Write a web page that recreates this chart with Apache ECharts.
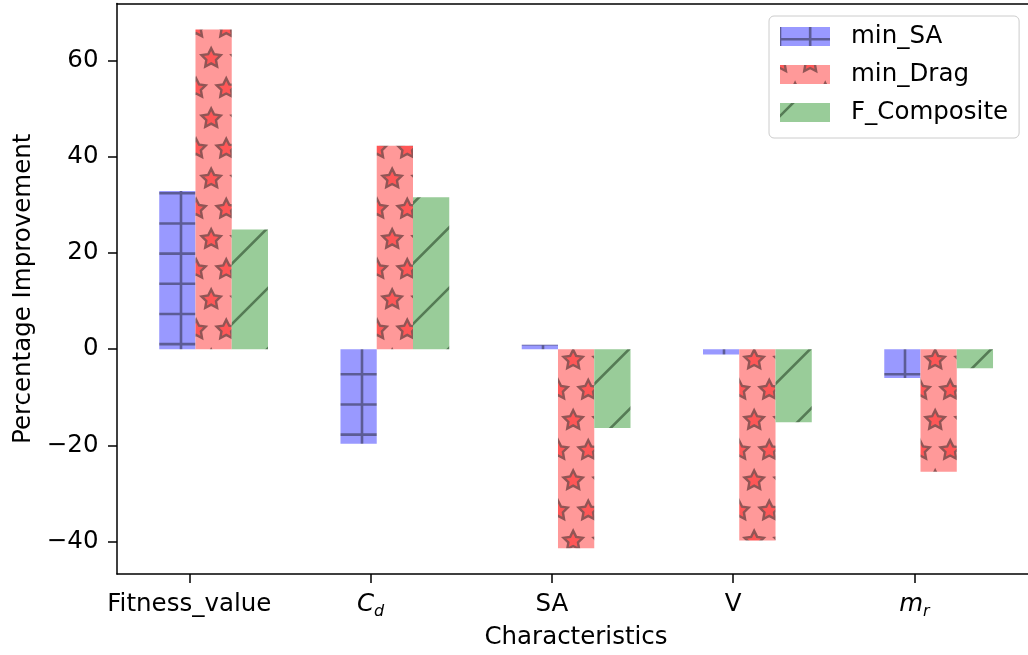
<!DOCTYPE html>
<html>
<head>
<meta charset="utf-8">
<script src="https://cdn.jsdelivr.net/npm/echarts@6/dist/echarts.min.js"></script>
<style>
  html, body { margin: 0; padding: 0; background: #ffffff; }
  #chart { width: 1028px; height: 655px; }
</style>
</head>
<body>
<div id="chart"></div>
<script>
// ---- data ----
const categories = ['Fitness_value', 'C_d', 'SA', 'V', 'm_r'];
const seriesNames = ['min_SA', 'min_Drag', 'F_Composite'];
const minSA = [32.9, -19.7, 0.9, -1.1, -6.0];
const minDrag = [66.5, 42.3, -41.4, -39.8, -25.5];
const fComposite = [24.9, 31.6, -16.4, -15.2, -4.0];
const yTicks = [-40, -20, 0, 20, 40, 60];
// labels written as math: base letter + italic subscript
const mathLabels = { C_d: ['C', 'd'], m_r: ['m', 'r'] };

// ---- layout ----
const FONT = 'DejaVu Sans';
const FS = 24.5;
const GRID_L = 117, GRID_T = 3.5, GRID_W = 911, GRID_H = 575;
const X_MIN = -0.399, X_MAX = 4.627;
const Y_MIN = -46.8, Y_MAX = 71.9;
const BAR_W = 0.2;                       // bar width in category units
const OFFSETS = [-0.066, 0.134, 0.334];  // bar centre offsets per series
const barPx = BAR_W * GRID_W / (X_MAX - X_MIN);

// ---- hatch tiles ----
const TILE = 181;
const STEP = TILE / 6;
function makeTile(bg, draw) {
  const c = document.createElement('canvas');
  c.width = TILE; c.height = TILE;
  const g = c.getContext('2d');
  g.fillStyle = bg;
  g.fillRect(0, 0, TILE, TILE);
  draw(g);
  return c;
}
// '+' grid
const gridTile = makeTile('#9999ff', g => {
  g.strokeStyle = '#5c5c96';
  g.lineWidth = 2.6;
  g.beginPath();
  for (let k = 0; k <= 6; k++) {
    const x = k * STEP;
    g.moveTo(x, -2); g.lineTo(x, TILE + 2);
  }
  for (let k = -1; k <= 6; k++) {
    const y = 12.3 + k * STEP;
    g.moveTo(-2, y); g.lineTo(TILE + 2, y);
  }
  g.stroke();
});
// stars
function star(g, cx, cy, R) {
  g.beginPath();
  for (let i = 0; i < 10; i++) {
    const r = i % 2 === 0 ? R : R * 0.5;
    const a = -Math.PI / 2 + i * Math.PI / 5;
    const px = cx + r * Math.cos(a), py = cy + r * Math.sin(a);
    if (i === 0) g.moveTo(px, py); else g.lineTo(px, py);
  }
  g.closePath();
  g.fill();
  g.stroke();
}
const starTile = makeTile('#ff9999', g => {
  g.fillStyle = '#ff5757';
  g.strokeStyle = '#915555';
  g.lineWidth = 2.4;
  g.lineJoin = 'miter';
  for (let k = -1; k <= 6; k++) {
    const y = 28.1 + k * STEP;
    const shift = (k % 2 === 0) ? STEP / 2 : 0;
    for (let j = -1; j <= 6; j++) star(g, shift + j * STEP, y, 10.1);
  }
});
// '/' diagonals
const diagTile = makeTile('#99cc99', g => {
  g.strokeStyle = '#557b55';
  g.lineWidth = 2.6;
  g.beginPath();
  for (let k = -1; k <= 7; k++) {
    const c = 13 + k * 2 * STEP;
    g.moveTo(-10, c + 10); g.lineTo(TILE + 10, c - TILE - 10);
  }
  g.stroke();
});
const fills = [gridTile, starTile, diagTile].map(img => ({ image: img, repeat: 'repeat' }));

const values = [minSA, minDrag, fComposite];
const series = seriesNames.map((name, s) => ({
  name,
  type: 'bar',
  xAxisIndex: 0,
  yAxisIndex: 0,
  barWidth: barPx,
  barGap: '-100%',
  itemStyle: { color: fills[s] },
  emphasis: { disabled: true },
  data: categories.map((_, i) => [i + OFFSETS[s], values[s][i]])
}));

const minus = v => (v < 0 ? '\u2212' + Math.abs(v) : String(v));

const labelRich = {
  it: { fontFamily: FONT, fontSize: FS, fontStyle: 'italic', color: '#000', verticalAlign: 'bottom', padding: [0, 0, 3, 0] },
  sub: { fontFamily: FONT, fontSize: 16, fontStyle: 'italic', color: '#000', verticalAlign: 'bottom' }
};

const chart = echarts.init(document.getElementById('chart'), null, { renderer: 'canvas' });
chart.setOption({
  animation: false,
  backgroundColor: '#ffffff',
  grid: { left: GRID_L, top: GRID_T, width: GRID_W, height: GRID_H, containLabel: false },
  legend: {
    orient: 'vertical',
    left: 769,
    top: 16,
    icon: 'rect',
    itemWidth: 50,
    itemHeight: 19,
    itemGap: 13,
    padding: [8, 11, 13, 11],
    backgroundColor: '#ffffff',
    borderColor: '#cccccc',
    borderWidth: 1,
    borderRadius: 5,
    selectedMode: false,
    textStyle: { fontFamily: FONT, fontSize: FS, color: '#000', padding: [0, 0, 0, 16] },
    data: seriesNames
  },
  xAxis: [
    {
      type: 'value',
      position: 'bottom',
      min: X_MIN,
      max: X_MAX,
      name: 'Characteristics',
      nameLocation: 'middle',
      nameGap: 50,
      nameTextStyle: { fontFamily: FONT, fontSize: FS, color: '#000', padding: [0, 0, 0, 7] },
      axisLine: { show: true, onZero: false, lineStyle: { color: '#000', width: 1.5 } },
      axisTick: { show: true, length: 9, customValues: categories.map((_, i) => i), lineStyle: { color: '#000', width: 1.5 } },
      axisLabel: {
        show: true,
        margin: 18,
        customValues: categories.map((_, i) => i),
        fontFamily: FONT,
        fontSize: FS,
        color: '#000',
        formatter: v => {
          const name = categories[Math.round(v)];
          const m = mathLabels[name];
          return m ? '{it|' + m[0] + '}{sub|' + m[1] + '}' : name;
        },
        rich: labelRich
      },
      splitLine: { show: false }
    },
    {
      type: 'value',
      position: 'top',
      min: X_MIN,
      max: X_MAX,
      axisLine: { show: true, onZero: false, lineStyle: { color: '#000', width: 1.5 } },
      axisTick: { show: false },
      axisLabel: { show: false },
      splitLine: { show: false }
    }
  ],
  yAxis: {
    type: 'value',
    min: Y_MIN,
    max: Y_MAX,
    name: 'Percentage Improvement',
    nameLocation: 'middle',
    nameRotate: 90,
    nameGap: 80,
    nameTextStyle: { fontFamily: FONT, fontSize: FS, color: '#000' },
    axisLine: { show: true, onZero: false, lineStyle: { color: '#000', width: 1.5 } },
    axisTick: { show: true, length: 9, customValues: yTicks, lineStyle: { color: '#000', width: 1.5 } },
    axisLabel: {
      show: true,
      margin: 18.5,
      customValues: yTicks,
      fontFamily: FONT,
      fontSize: FS,
      color: '#000',
      formatter: minus
    },
    splitLine: { show: false }
  },
  series
});
</script>
</body>
</html>
